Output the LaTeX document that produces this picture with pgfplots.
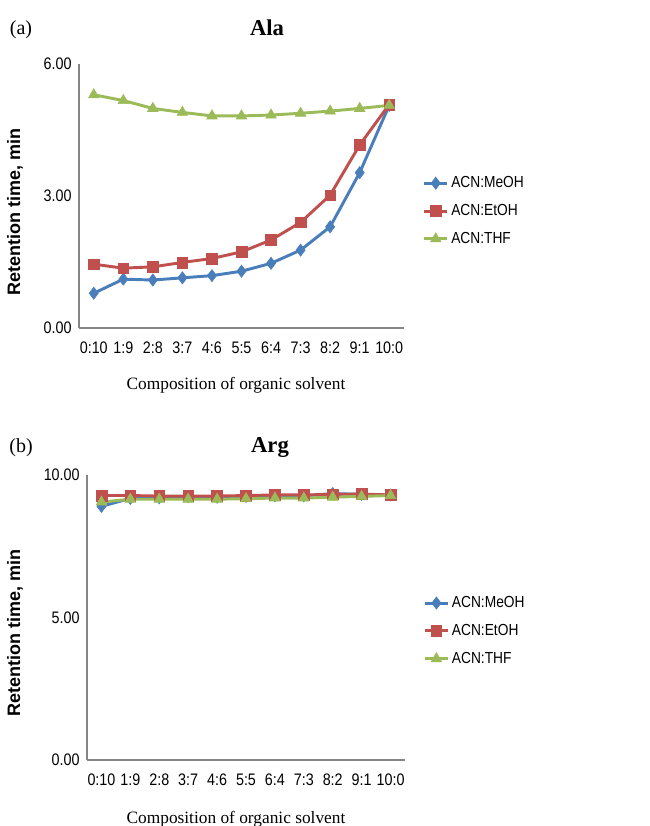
\documentclass[border=0pt]{standalone}
\usepackage{pgfplots}
\pgfplotsset{compat=1.18}
\usepackage{fontspec}
\setmainfont{Liberation Serif}
\setsansfont{Liberation Sans}
\newfontfamily\cond[FakeStretch=0.86]{Liberation Sans}
\definecolor{cblue}{RGB}{74,126,187}
\definecolor{cred}{RGB}{192,80,77}
\definecolor{cgreen}{RGB}{155,187,89}
\definecolor{axgray}{RGB}{134,134,134}

\pgfplotsset{
  rt/.style={
    scale only axis,
    axis x line=bottom, axis y line=left,
    axis line style={-, axgray, line width=0.8pt},
    major tick length=0pt,
    xmin=-0.5, xmax=10.5, ymin=0,
    xtick={0,...,10},
    xticklabels={0:10,1:9,2:8,3:7,4:6,5:5,6:4,7:3,8:2,9:1,10:0},
    tick label style={font=\cond\fontsize{12.5}{14}\selectfont},
    /pgf/number format/assume math mode=true,
    yticklabel style={/pgf/number format/fixed, /pgf/number format/fixed zerofill,
      /pgf/number format/precision=2, xshift=-2pt},
    xticklabel style={yshift=-7pt},
    legend style={draw=none, fill=none, anchor=west,
      font=\cond\fontsize{12}{14}\selectfont, row sep=7pt,
      legend cell align=left},
    every axis plot/.append style={line width=2.2pt},
  },
  meoh/.style={cblue, mark=diamond*, mark size=4.6pt, mark options={line width=0.4pt}},
  etoh/.style={cred, mark=square*, mark size=4pt, mark options={line width=0.4pt}},
  thf/.style={cgreen, mark=triangle*, mark size=4.6pt, mark options={line width=0.4pt}},
}

\begin{document}
\begin{tikzpicture}
\path[use as bounding box] (0,0) rectangle (487.5pt,619.5pt);

% (a) Ala
\begin{axis}[rt, at={(59.25pt,373.5pt)}, anchor=south west,
    width=243.75pt, height=198pt, ymax=6, ytick={0,3,6},
    legend style={at={(1.045,0.443)}}]
\addplot[meoh] coordinates {(0,0.79) (1,1.11) (2,1.09) (3,1.14) (4,1.19) (5,1.29) (6,1.47) (7,1.77) (8,2.30) (9,3.53) (10,5.06)};
\addplot[etoh] coordinates {(0,1.45) (1,1.36) (2,1.39) (3,1.49) (4,1.58) (5,1.73) (6,2.00) (7,2.40) (8,3.02) (9,4.16) (10,5.08)};
\addplot[thf] coordinates {(0,5.30) (1,5.17) (2,4.99) (3,4.90) (4,4.82) (5,4.82) (6,4.84) (7,4.88) (8,4.93) (9,4.99) (10,5.06)};
\legend{ACN:MeOH,ACN:EtOH,ACN:THF}
\end{axis}

% (b) Arg
\begin{axis}[rt, at={(65.25pt,49.5pt)}, anchor=south west,
    width=238.5pt, height=213.75pt, ymax=10, ytick={0,5,10},
    legend style={at={(1.045,0.453)}}]
\addplot[meoh] coordinates {(0,8.90) (1,9.18) (2,9.20) (3,9.24) (4,9.22) (5,9.25) (6,9.27) (7,9.27) (8,9.35) (9,9.32) (10,9.30)};
\addplot[etoh] coordinates {(0,9.28) (1,9.28) (2,9.26) (3,9.26) (4,9.26) (5,9.28) (6,9.30) (7,9.30) (8,9.32) (9,9.33) (10,9.30)};
\addplot[thf] coordinates {(0,9.05) (1,9.15) (2,9.15) (3,9.15) (4,9.15) (5,9.17) (6,9.19) (7,9.19) (8,9.22) (9,9.25) (10,9.28)};
\legend{ACN:MeOH,ACN:EtOH,ACN:THF}
\end{axis}

% titles and labels
\node[font=\fontsize{15}{17}\selectfont] at (15.75pt,597pt) {(a)};
\node[font=\bfseries\fontsize{17}{19}\selectfont] at (200.25pt,598.5pt) {Ala};
\node[font=\fontsize{13}{15}\selectfont] at (177pt,330.75pt) {Composition of organic solvent};
\node[rotate=90, font=\sffamily\bfseries\fontsize{13.5}{15}\selectfont] at (11.25pt,460.5pt) {Retention time, min};

\node[font=\fontsize{15}{17}\selectfont] at (15.75pt,283.5pt) {(b)};
\node[font=\bfseries\fontsize{17}{19}\selectfont] at (202.5pt,283.5pt) {Arg};
\node[font=\fontsize{13}{15}\selectfont] at (177pt,5pt) {Composition of organic solvent};
\node[rotate=90, font=\sffamily\bfseries\fontsize{13.5}{15}\selectfont] at (11.25pt,144.75pt) {Retention time, min};
\end{tikzpicture}
\end{document}
